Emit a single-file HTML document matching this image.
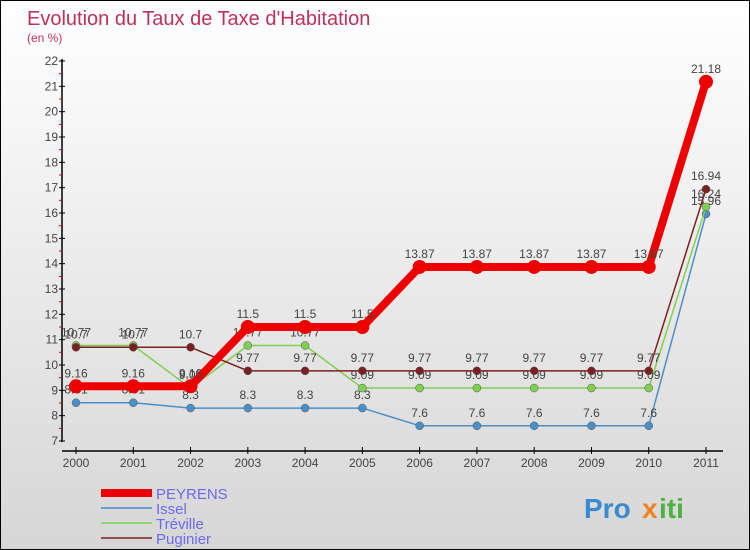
<!DOCTYPE html>
<html><head><meta charset="utf-8"><style>
body{margin:0}
#c{width:748px;height:548px;border:1px solid #000;background:linear-gradient(#fff,#d6d6d6);position:relative;font-family:"Liberation Sans",sans-serif;overflow:hidden}
</style></head><body>
<div id="c">
<svg id="s" width="748" height="548"></svg>
</div>
<script>
const years=["2000","2001","2002","2003","2004","2005","2006","2007","2008","2009","2010","2011"];
const peyrens=[9.16,9.16,9.16,11.5,11.5,11.5,13.87,13.87,13.87,13.87,13.87,21.18];
const issel=[8.51,8.51,8.3,8.3,8.3,8.3,7.6,7.6,7.6,7.6,7.6,15.96];
const treville=[10.77,10.77,9.09,10.77,10.77,9.09,9.09,9.09,9.09,9.09,9.09,16.24];
const puginier=[10.7,10.7,10.7,9.77,9.77,9.77,9.77,9.77,9.77,9.77,9.77,16.94];
const yTicks=[7,8,9,10,11,12,13,14,15,16,17,18,19,20,21,22];
const NS="http://www.w3.org/2000/svg",s=document.getElementById('s');
const X=i=>75+i*(630/11),Y=v=>440-(v-7)*(380/15);
function el(t,a,txt){const e=document.createElementNS(NS,t);for(const k in a)e.setAttribute(k,a[k]);if(txt!==undefined)e.textContent=txt;s.appendChild(e);return e;}
let e;
e=el('text',{x:26,y:24,'font-size':20,fill:'#c0305a'},"Evolution du Taux de Taxe d'Habitation");

e=el('text',{x:26,y:41,'font-size':12,fill:'#c0305a'},"(en %)");

e=el('line',{x1:61,y1:58,x2:61,y2:441,stroke:'#000','stroke-width':1.5});

e=el('line',{x1:61,y1:450,x2:722,y2:450,stroke:'#000','stroke-width':1.5});

yTicks.forEach(v=>{
 e=el('line',{x1:58,y1:Y(v),x2:64,y2:Y(v),stroke:'#000'});
 
 if(v<22){e=el('line',{x1:58,y1:Y(v+0.5),x2:61,y2:Y(v+0.5),stroke:'#e00'});
 }
 e=el('text',{x:57,y:Y(v)+4,'font-size':12,fill:'#444','text-anchor':'end'},v);
 
});
years.forEach((y,i)=>{
 e=el('line',{x1:X(i),y1:446,x2:X(i),y2:453,stroke:'#000'});
 
 e=el('text',{x:X(i),y:466,'font-size':12,fill:'#444','text-anchor':'middle'},y);
 
});
function series(name,vals,color,w,r){
 e=el('polyline',{points:vals.map((v,i)=>X(i)+','+Y(v)).join(' '),fill:'none',stroke:color,'stroke-width':w,'stroke-linejoin':'round'});
 
 vals.forEach((v,i)=>{
  e=el('circle',{cx:X(i),cy:Y(v),r:r,fill:color,stroke:r>5?'none':'#555','stroke-width':0.5});
  
  e=el('text',{x:X(i),y:Y(v)-9,'font-size':12,fill:'#444','text-anchor':'middle'},v);
  
 });
}
series('issel',issel,'#4a90c8',1.5,4);
series('treville',treville,'#80d050',1.5,4);
series('puginier',puginier,'#7a2020',1.5,4);
series('peyrens',peyrens,'#ee0000',8,7);
const leg=[["PEYRENS","#ee0000",8],["Issel","#6aa0d0",2],["Tréville","#90d870",2],["Puginier","#905050",2]];
leg.forEach((l,i)=>{
 const y=492+i*15;
 e=el('line',{x1:100,y1:y,x2:151,y2:y,stroke:l[1],'stroke-width':l[2]});
 
 e=el('text',{x:155,y:y+6,'font-size':15,fill:'#6a6af0'},l[0]);
 
});
e=el('text',{x:583,y:517,'font-size':28,'font-weight':'bold',fill:'#3a8ad0'},"Pro");

e=el('text',{x:641,y:517,'font-size':28,'font-weight':'bold',fill:'#f08020'},"x");

e=el('text',{x:658,y:517,'font-size':28,'font-weight':'bold',fill:'#50b040'},"iti");

</script>
</body></html>
